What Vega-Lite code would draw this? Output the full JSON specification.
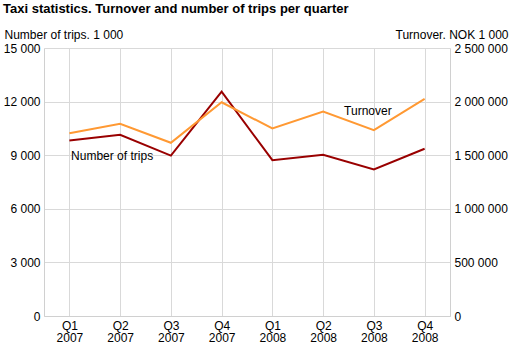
{
  "$schema": "https://vega.github.io/schema/vega-lite/v6.json",
  "autosize": "none",
  "width": 406,
  "height": 268,
  "padding": {"left": 44, "top": 48, "right": 62, "bottom": 39},
  "title": {
    "text": "Taxi statistics. Turnover and number of trips per quarter",
    "anchor": "start",
    "frame": "group",
    "dx": -41,
    "fontSize": 13,
    "font": "Liberation Sans",
    "fontWeight": "bold",
    "color": "#000000",
    "offset": 12
  },
  "data": {
    "values": [
      {"quarter": "Q1 2007", "trips": 9820, "turnover": 1705000},
      {"quarter": "Q2 2007", "trips": 10140, "turnover": 1793000},
      {"quarter": "Q3 2007", "trips": 8980, "turnover": 1616000},
      {"quarter": "Q4 2007", "trips": 12560, "turnover": 1994000},
      {"quarter": "Q1 2008", "trips": 8720, "turnover": 1749000},
      {"quarter": "Q2 2008", "trips": 9020, "turnover": 1908000},
      {"quarter": "Q3 2008", "trips": 8200, "turnover": 1733000},
      {"quarter": "Q4 2008", "trips": 9360, "turnover": 2026000}
    ]
  },
  "encoding": {
    "x": {
      "field": "quarter",
      "type": "ordinal",
      "sort": null,
      "scale": {"type": "point", "padding": 0.5},
      "axis": {
        "title": null,
        "labelAngle": 0,
        "labelExpr": "split(datum.label, ' ')",
        "labelLineHeight": 12,
        "labelPadding": 4,
        "ticks": false,
        "grid": true,
        "domain": true
      }
    }
  },
  "layer": [
    {
      "layer": [
        {
          "mark": {"type": "line", "color": "#990000", "strokeWidth": 2},
          "encoding": {
            "y": {
              "field": "trips",
              "type": "quantitative",
              "scale": {"domain": [0, 15000], "nice": false, "zero": true},
              "axis": {
                "orient": "left",
                "values": [0, 3000, 6000, 9000, 12000, 15000],
                "labelExpr": "replace(format(datum.value, ',d'), /,/g, ' ')",
                "title": "Number of trips. 1 000",
                "titleAngle": 0,
                "titleAlign": "left",
                "titleBaseline": "alphabetic",
                "titleX": -40,
                "titleY": -10,
                "ticks": false,
                "grid": true,
                "domain": true
              }
            }
          }
        },
        {
          "transform": [{"filter": "datum.quarter == 'Q2 2007'"}],
          "mark": {"type": "text", "text": "Number of trips", "align": "center", "baseline": "middle", "dx": -8, "dy": 21, "fontSize": 12, "font": "Liberation Sans", "color": "#000000"},
          "encoding": {"y": {"field": "trips", "type": "quantitative", "scale": {"domain": [0, 15000], "nice": false}}}
        }
      ]
    },
    {
      "layer": [
        {
          "mark": {"type": "line", "color": "#ff9933", "strokeWidth": 2},
          "encoding": {
            "y": {
              "field": "turnover",
              "type": "quantitative",
              "scale": {"domain": [0, 2500000], "nice": false},
              "axis": {
                "orient": "right",
                "values": [0, 500000, 1000000, 1500000, 2000000, 2500000],
                "labelExpr": "replace(format(datum.value, ',d'), /,/g, ' ')",
                "title": "Turnover. NOK 1 000",
                "titleAngle": 0,
                "titleAlign": "right",
                "titleBaseline": "alphabetic",
                "titleX": 58,
                "titleY": -10,
                "ticks": false,
                "grid": false,
                "domain": true
              }
            }
          }
        },
        {
          "transform": [{"filter": "datum.quarter == 'Q3 2008'"}],
          "mark": {"type": "text", "text": "Turnover", "align": "center", "baseline": "middle", "dx": -6, "dy": -19, "fontSize": 12, "font": "Liberation Sans", "color": "#000000"},
          "encoding": {"y": {"field": "turnover", "type": "quantitative", "scale": {"domain": [0, 2500000], "nice": false}}}
        }
      ]
    }
  ],
  "resolve": {"scale": {"y": "independent"}},
  "config": {
    "view": {"stroke": null},
    "axis": {
      "labelFont": "Liberation Sans",
      "labelFontSize": 12,
      "labelColor": "#000000",
      "titleFont": "Liberation Sans",
      "titleFontSize": 12,
      "titleFontWeight": "normal",
      "titleColor": "#000000",
      "gridColor": "#d9d9d9",
      "gridWidth": 1,
      "gridOpacity": 1,
      "domainColor": "#d0d0d0",
      "domainWidth": 1,
      "labelPadding": 4
    }
  }
}
